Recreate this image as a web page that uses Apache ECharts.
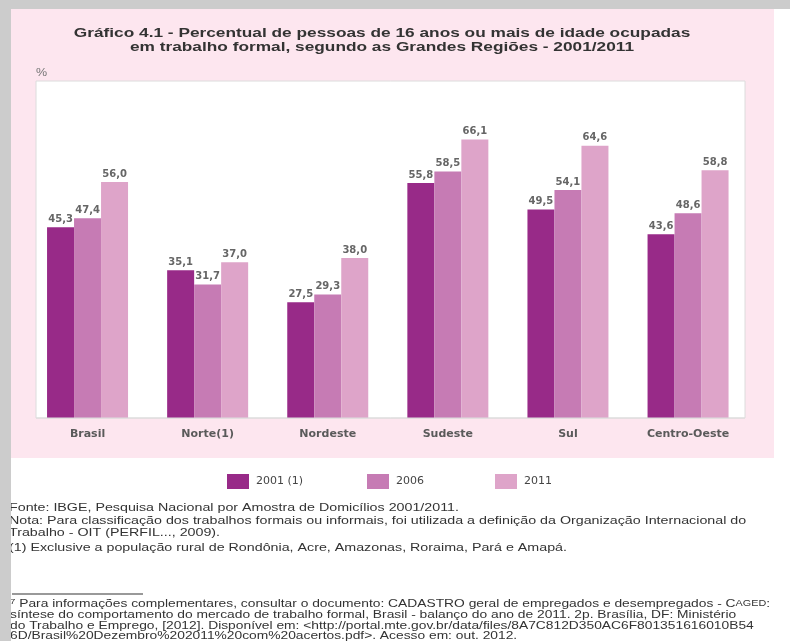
<!DOCTYPE html>
<html><head><meta charset="utf-8">
<script src="https://cdn.jsdelivr.net/npm/echarts@6/dist/echarts.min.js"></script>
<style>html,body{margin:0;padding:0;background:#fff}#c{width:790px;height:641px}</style>
</head><body><div id="c"></div>
<script>
const categories = ['Brasil','Norte(1)','Nordeste','Sudeste','Sul','Centro-Oeste'];
const seriesNames = ['2001 (1)','2006','2011'];
const v2001 = [45.3, 35.1, 27.5, 55.8, 49.5, 43.6];
const v2006 = [47.4, 31.7, 29.3, 58.5, 54.1, 48.6];
const v2011 = [56.0, 37.0, 38.0, 66.1, 64.6, 58.8];
const colors = ['#982a88','#c67bb4','#dea4c9'];
const titleLines = ['Gráfico 4.1 - Percentual de pessoas de 16 anos ou mais de idade ocupadas','em trabalho formal, segundo as Grandes Regiões - 2001/2011'];
const notes = [
 'Fonte: IBGE, Pesquisa Nacional por Amostra de Domicílios 2001/2011.',
 'Nota: Para classificação dos trabalhos formais ou informais, foi utilizada a definição da Organização Internacional do',
 'Trabalho - OIT (PERFIL..., 2009).',
 '(1) Exclusive a população rural de Rondônia, Acre, Amazonas, Roraima, Pará e Amapá.'
];
const foot = [
 '{s|7} Para informações complementares, consultar o documento: CADASTRO geral de empregados e desempregados - C{sc|AGED}:',
 'síntese do comportamento do mercado de trabalho formal, Brasil - balanço do ano de 2011. 2p. Brasília, DF: Ministério',
 'do Trabalho e Emprego, [2012]. Disponível em: <http://portal.mte.gov.br/data/files/8A7C812D350AC6F801351616010B54',
 '6D/Brasil%20Dezembro%202011%20com%20acertos.pdf>. Acesso em: out. 2012.'
];
const FF = '"Liberation Sans", Arial, sans-serif';
const FW = '"DejaVu Sans", sans-serif';
const data = [v2001, v2006, v2011];
const chart = echarts.init(document.getElementById('c'));
const graphics = [
  {type:'rect', z:-10, shape:{x:0,y:0,width:790,height:641}, style:{fill:'#ffffff'}},
  {type:'rect', z:-9, shape:{x:11,y:9,width:763,height:449}, style:{fill:'#fde6ef'}},
  {type:'rect', z:-8, shape:{x:36,y:81,width:709,height:337}, style:{fill:'#ffffff', stroke:'#dcdcdc', lineWidth:1}},
  {type:'line', z:5, shape:{x1:36,y1:418,x2:745,y2:418}, style:{stroke:'#dcdcdc', lineWidth:1}},
  {type:'text', x:36, y:68, scaleX:1.25, style:{text:'%', font:'10px '+FF, fill:'#777'}},
  {type:'line', shape:{x1:12,y1:594,x2:143,y2:594}, style:{stroke:'#777', lineWidth:1.5}}
];
const titleY = [33, 47];
titleLines.forEach((t,i)=>graphics.push({type:'text', x:382, y:titleY[i], scaleX:1.28, style:{text:t, font:'bold 13.5px '+FF, fill:'#333', align:'center', verticalAlign:'middle'}}));
const notesY = [508, 521, 533, 548];
notes.forEach((t,i)=>graphics.push({type:'text', x:9, y:notesY[i], scaleX:1.24, style:{text:t, font:'11.5px '+FF, fill:'#333', verticalAlign:'middle'}}));
const footY = [604, 615, 626, 636];
foot.forEach((t,i)=>graphics.push({type:'text', x:10, y:footY[i], scaleX:1.2, style:{text:t, font:'11.5px '+FF, fill:'#333', verticalAlign:'middle', rich:{s:{fontSize:8, fill:'#333', verticalAlign:'top', fontFamily:FF}, sc:{fontSize:9, fill:'#333', fontFamily:FF}}}}));
graphics.push({type:'rect', z:100, shape:{x:0,y:0,width:11,height:641}, style:{fill:'#cccccc'}});
graphics.push({type:'rect', z:100, shape:{x:0,y:0,width:790,height:9}, style:{fill:'#cccccc'}});
const legendLefts = [227, 367, 495];
chart.setOption({
  animation:false,
  textStyle:{fontFamily:FF},
  graphic: graphics,
  legend: seriesNames.map((n,i)=>({data:[n], left:legendLefts[i], top:474, padding:0, itemWidth:22, itemHeight:15, itemGap:0, icon:'rect', textStyle:{fontSize:11, color:'#444', fontFamily:FW, padding:[0,0,0,2]}})),
  grid:{left:27.5, width:720.6, top:81, height:337},
  xAxis:{type:'category', data:categories, axisLine:{show:false}, axisTick:{show:false}, axisLabel:{margin:11, fontSize:11, color:'#5a5a5a', fontWeight:'bold', fontFamily:FW}},
  yAxis:{type:'value', min:0, max:80, show:false, splitLine:{show:false}},
  series: seriesNames.map((n,i)=>({name:n, type:'bar', data:data[i], barWidth:27, barGap:'0%', itemStyle:{color:colors[i]},
    label:{show:true, position:'top', distance:3, fontSize:10, fontWeight:'bold', color:'#666', fontFamily:FW, formatter:p=>p.value.toFixed(1).replace('.',',')}}))
});
</script></body></html>
